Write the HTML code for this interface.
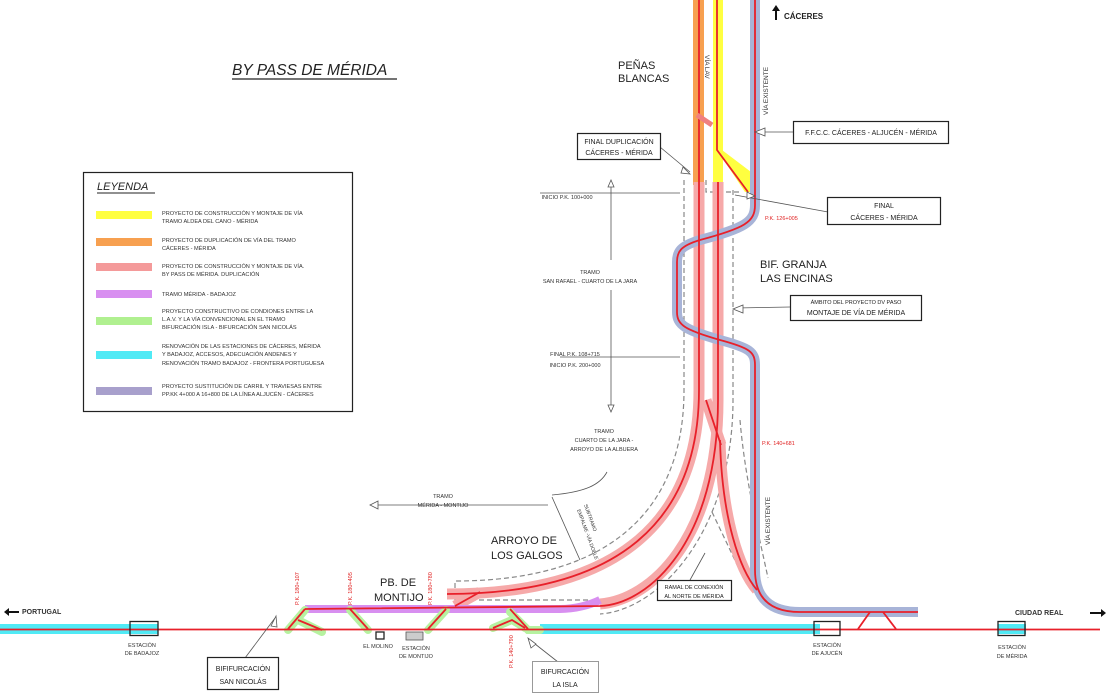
<!DOCTYPE html>
<html><head><meta charset="utf-8"><style>
html,body{margin:0;padding:0;background:#fff;}
svg{display:block;}
text{font-family:"Liberation Sans",sans-serif;}
</style></head><body>
<svg width="1110" height="700" viewBox="0 0 1110 700" xmlns="http://www.w3.org/2000/svg">
<rect width="1110" height="700" fill="#fff"/>

<!-- Title -->
<text x="232" y="75" font-size="15.5" font-style="italic" fill="#222">BY PASS DE MÉRIDA</text>
<line x1="232" y1="79" x2="397" y2="79" stroke="#222" stroke-width="1.2"/>

<!-- Legend -->
<rect x="83.5" y="172.5" width="269" height="239" fill="#fff" stroke="#222" stroke-width="1.2"/>
<text x="97" y="190" font-size="11" font-style="italic" fill="#222">LEYENDA</text>
<line x1="97" y1="193" x2="155" y2="193" stroke="#222" stroke-width="1"/>
<g font-size="5.6" fill="#333">
<rect x="96" y="211" width="56" height="8" fill="#ffff40"/>
<text x="162" y="215">PROYECTO DE CONSTRUCCIÓN Y MONTAJE DE VÍA</text><text x="162" y="223">TRAMO ALDEA DEL CANO - MÉRIDA</text>
<rect x="96" y="238" width="56" height="8" fill="#f7a050"/>
<text x="162" y="242">PROYECTO DE DUPLICACIÓN DE VÍA DEL TRAMO</text><text x="162" y="250">CÁCERES - MÉRIDA</text>
<rect x="96" y="263" width="56" height="8" fill="#f49a9a"/>
<text x="162" y="268">PROYECTO DE CONSTRUCCIÓN Y MONTAJE DE VÍA.</text><text x="162" y="276">BY PASS DE MÉRIDA. DUPLICACIÓN</text>
<rect x="96" y="290" width="56" height="8" fill="#d88ff0"/>
<text x="162" y="296">TRAMO MÉRIDA - BADAJOZ</text>
<rect x="96" y="317" width="56" height="8" fill="#b0f090"/>
<text x="162" y="313">PROYECTO CONSTRUCTIVO DE CONDIONES ENTRE LA</text><text x="162" y="321">L.A.V. Y LA VÍA CONVENCIONAL EN EL TRAMO</text><text x="162" y="329">BIFURCACIÓN ISLA - BIFURCACIÓN SAN NICOLÁS</text>
<rect x="96" y="351" width="56" height="8" fill="#50eaf5"/>
<text x="162" y="348">RENOVACIÓN DE LAS ESTACIONES DE CÁCERES, MÉRIDA</text><text x="162" y="356">Y BADAJOZ, ACCESOS, ADECUACIÓN ANDENES Y</text><text x="162" y="365">RENOVACIÓN TRAMO BADAJOZ - FRONTERA PORTUGUESA</text>
<rect x="96" y="387" width="56" height="8" fill="#a8a0cc"/>
<text x="162" y="388">PROYECTO SUSTITUCIÓN DE CARRIL Y TRAVIESAS ENTRE</text><text x="162" y="396">PP.KK 4+000 A 16+800 DE LA LÍNEA ALJUCÉN - CÁCERES</text>
</g>

<!-- Dashed outlines -->
<g fill="none" stroke="#888" stroke-width="1.2" stroke-dasharray="5,3">
<path d="M684,180 L684,390 C684,510 610,581 455,581 L455,607"/>
<path d="M733,190 L733,400 C733,530 660,610 600,614"/>
<path d="M706,180 L706,192 L740,192"/>
<path d="M712,512 L742,575"/>
<path d="M740,420 C745,480 760,540 768,578"/>
<path d="M455,600 L590,600"/>
</g>

<!-- Top vertical coloured tracks -->
<rect x="693" y="0" width="11" height="185" fill="#f7a050"/>
<rect x="713" y="0" width="10" height="185" fill="#ffff40"/>
<path d="M717,150 L745,192 L755,192 L755,175 L722,150 Z" fill="#ffff40"/>
<g fill="none" stroke="#f6a9a9" stroke-width="11">
<path d="M699,182 L699,390 C699,520 620,594 447,594"/>
<path d="M718,182 L718,400 C718,540 650,600 600,604"/>
<path d="M720,440 C722,520 740,570 757,590"/>
<path d="M706,400 L721,445"/>
<path d="M455,606 L480,592"/>
</g>
<path d="M305,609 L560,609 C575,609 590,605 600,600" fill="none" stroke="#d88ff0" stroke-width="8"/>
<path d="M755,0 L755,205 C755,222 745,228 700,240 C680,246 677,252 677,262 L677,312 C677,325 685,330 720,340 C750,348 755,352 755,365 L755,570 Q755,612 800,612 L918,612" fill="none" stroke="#a8b4d8" stroke-width="10"/>
<rect x="0" y="624" width="158" height="10" fill="#50eaf5"/>
<rect x="540" y="624" width="280" height="10" fill="#50eaf5"/>
<rect x="998" y="624" width="28" height="10" fill="#50eaf5"/>
<g fill="none" stroke="#b6f2a0" stroke-width="8" stroke-linecap="round">
<path d="M288,630 L305,610 M298,620 L322,632"/>
<path d="M350,610 L368,630"/>
<path d="M428,630 L446,610"/>
<path d="M493,628 L512,620 L525,628 M510,612 L528,630 L540,630"/>
</g>

<g fill="none" stroke="#e8202a" stroke-width="1.8">
<path d="M699,0 L699,390 C699,520 620,594 447,594"/>
<path d="M717,0 L717,150 L748,192"/>
<path d="M718,182 L718,400 C718,540 650,604 600,606 L305,609"/>
<path d="M720,440 C722,520 740,570 757,590"/>
<path d="M706,400 L721,445"/>
<path d="M755,0 L755,205 C755,222 745,228 700,240 C680,246 677,252 677,262 L677,312 C677,325 685,330 720,340 C750,348 755,352 755,365 L755,570 Q755,612 800,612 L918,612"/>
<path d="M0,629.5 L1100,629.5"/>
<path d="M288,629 L305,609 M298,620 L322,630"/>
<path d="M350,609 L368,629"/>
<path d="M428,629 L446,609"/>
<path d="M493,628 L512,620 L525,628 M510,609 L528,629"/>
<path d="M858,629 L870,612 M883,612 L896,629"/>
<path d="M455,606 L480,592"/>
</g>
<path d="M697,115 L712,125" stroke="#f08080" stroke-width="5"/>

<g fill="none" stroke="#222" stroke-width="1.3">
<rect x="130" y="621.5" width="28" height="14"/>
<rect x="814" y="621.5" width="26" height="14"/>
<rect x="998" y="621.5" width="27" height="14"/>
<rect x="376" y="632" width="8" height="7"/>
</g>
<rect x="406" y="632" width="17" height="8" fill="#ccc" stroke="#555" stroke-width="0.8"/>

<g stroke="#555" stroke-width="0.8" fill="none">
<line x1="540" y1="193" x2="680" y2="193"/>
<line x1="611" y1="180" x2="611" y2="260"/>
<line x1="611" y1="290" x2="611" y2="412"/>
<line x1="560" y1="357" x2="680" y2="357"/>
<path d="M607,472 C600,485 585,492 552,495"/>
<line x1="370" y1="505" x2="548" y2="505"/>
<line x1="552" y1="497" x2="580" y2="560"/>
<line x1="660" y1="147" x2="690" y2="172"/>
<line x1="735" y1="195" x2="828" y2="212"/>
<line x1="762" y1="132" x2="793" y2="132"/>
<line x1="736" y1="308" x2="790" y2="307"/>
<line x1="690" y1="580" x2="705" y2="553"/>
<line x1="245" y1="658" x2="275" y2="618"/>
<line x1="558" y1="662" x2="530" y2="640"/>
</g>
<g fill="#fff" stroke="#555" stroke-width="0.8">
<polygon points="370,505 378,501 378,509"/>
<polygon points="611,180 608,187 614,187"/>
<polygon points="611,412 608,405 614,405"/>
<polygon points="690,174 683,167 681,173"/>
<polygon points="755,196 747,192 747,199"/>
<polygon points="755,132 765,128 765,136"/>
<polygon points="733,309 743,305 743,313"/>
<polygon points="276,616 271,626 277,627"/>
<polygon points="528,638 531,648 536,644"/>
</g>

<g fill="#fff" stroke="#222" stroke-width="1.2">
<rect x="577.5" y="133.5" width="83" height="26"/>
<rect x="793.5" y="121.5" width="155" height="22"/>
<rect x="827.5" y="197.5" width="113" height="27"/>
<rect x="790.5" y="295.5" width="131" height="25"/>
<rect x="657.5" y="580.5" width="74" height="20"/>
<rect x="207.5" y="657.5" width="71" height="32"/>
</g>
<rect x="532.5" y="661.5" width="66" height="31" fill="#fff" stroke="#999" stroke-width="1"/>

<g fill="#222" font-size="7" text-anchor="middle">
<text x="619" y="144">FINAL DUPLICACIÓN</text><text x="619" y="155">CÁCERES - MÉRIDA</text>
<text x="871" y="135">F.F.C.C. CÁCERES - ALJUCÉN - MÉRIDA</text>
<text x="884" y="208">FINAL</text><text x="884" y="220">CÁCERES - MÉRIDA</text>
<text x="856" y="304" font-size="5.5">ÁMBITO DEL PROYECTO DV PASO</text><text x="856" y="315">MONTAJE DE VÍA DE MÉRIDA</text>
<text x="694" y="589" font-size="5.5">RAMAL DE CONEXIÓN</text><text x="694" y="598" font-size="5.5">AL NORTE DE MÉRIDA</text>
<text x="243" y="671">BIFIFURCACIÓN</text><text x="243" y="684">SAN NICOLÁS</text>
<text x="565" y="674">BIFURCACIÓN</text><text x="565" y="687">LA ISLA</text>
</g>

<g fill="#333" font-size="5.5" text-anchor="middle">
<text x="567" y="199">INICIO P.K. 100+000</text>
<text x="590" y="274">TRAMO</text><text x="590" y="283">SAN RAFAEL - CUARTO DE LA JARA</text>
<text x="575" y="356">FINAL P.K. 108+715</text><text x="575" y="367">INICIO P.K. 200+000</text>
<text x="604" y="433">TRAMO</text><text x="604" y="442">CUARTO DE LA JARA -</text><text x="604" y="451">ARROYO DE LA ALBUERA</text>
<text x="443" y="498">TRAMO</text><text x="443" y="507">MÉRIDA - MONTIJO</text>
<text x="142" y="647">ESTACIÓN</text><text x="142" y="655">DE BADAJOZ</text>
<text x="827" y="647">ESTACIÓN</text><text x="827" y="655">DE AJUCÉN</text>
<text x="1012" y="649">ESTACIÓN</text><text x="1012" y="658">DE MÉRIDA</text>
<text x="378" y="648">EL MOLINO</text>
<text x="416" y="650">ESTACIÓN</text><text x="416" y="658">DE MONTIJO</text>
</g>

<g fill="#e02020" font-size="5.5">
<text x="765" y="220">P.K. 126+005</text>
<text x="762" y="445">P.K. 140+681</text>
<text transform="translate(299,605) rotate(-90)">P.K. 180+107</text>
<text transform="translate(352,605) rotate(-90)">P.K. 180+405</text>
<text transform="translate(432,605) rotate(-90)">P.K. 180+780</text>
<text transform="translate(513,668) rotate(-90)">P.K. 140+790</text>
</g>

<g fill="#333" font-size="6.5">
<text transform="translate(705,55) rotate(90)">VÍA LAV</text>
<text transform="translate(768,115) rotate(-90)">VÍA EXISTENTE</text>
<text transform="translate(770,545) rotate(-90)">VÍA EXISTENTE</text>
<text transform="translate(584,505) rotate(70)" font-size="5">SUBTRAMO</text>
<text transform="translate(577,510) rotate(70)" font-size="5">EMPALME -VÍA DOBLE</text>
</g>

<g fill="#222" font-size="11">
<text x="618" y="69">PEÑAS</text><text x="618" y="82">BLANCAS</text>
<text x="760" y="268">BIF. GRANJA</text><text x="760" y="282">LAS ENCINAS</text>
<text x="491" y="544">ARROYO DE</text><text x="491" y="559">LOS GALGOS</text>
<text x="380" y="586">PB. DE</text><text x="374" y="601">MONTIJO</text>
</g>
<text x="784" y="19" font-size="8" font-weight="bold" fill="#222">CÁCERES</text>
<path d="M776,20 L776,10" stroke="#111" stroke-width="2"/><polygon points="772,11 780,11 776,5" fill="#111"/>
<text x="22" y="614" font-size="7" font-weight="bold" fill="#333">PORTUGAL</text>
<path d="M7,612 L19,612" stroke="#111" stroke-width="2"/><polygon points="4,612 9,608 9,616" fill="#111"/>
<text x="1015" y="615" font-size="7" font-weight="bold" fill="#333">CIUDAD REAL</text>
<path d="M1090,613 L1102,613" stroke="#111" stroke-width="2"/><polygon points="1106,613 1101,609 1101,617" fill="#111"/>
</svg>
</body></html>
